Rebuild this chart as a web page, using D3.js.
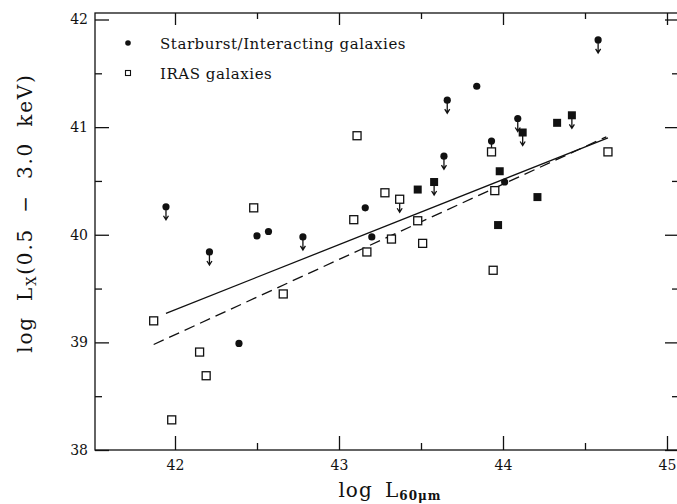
<!DOCTYPE html>
<html>
<head>
<meta charset="utf-8">
<script src="https://cdnjs.cloudflare.com/ajax/libs/d3/7.8.5/d3.min.js"></script>
<style>
  body { margin: 0; background: #fff; }
  text { font-family: "DejaVu Serif", serif; fill: #111; }
  .okvir-linija { stroke: #111; stroke-width: 1.3; fill: none; }
  .tick line { stroke: #111; stroke-width: 1.3; }
  .domain { display: none; }
</style>
</head>
<body>
<div id="wrapper"></div>
<script>
// starburst / interacting galaxies (filled circles)
const starburstX = [42.50, 42.57, 43.84, 43.16, 43.20, 42.39, 44.01]
const starburstY = [39.99, 40.03, 41.38, 40.25, 39.98, 38.99, 40.49]
const starburstLimX = [41.945, 42.78, 44.58, 43.66, 44.09, 43.93, 43.64, 42.21]
const starburstLimY = [40.26, 39.98, 41.81, 41.25, 41.08, 40.87, 40.73, 39.84]

// filled squares
const filledSqX = [44.33, 43.98, 43.48, 44.21, 43.97]
const filledSqY = [41.04, 40.59, 40.42, 40.35, 40.09]
const filledSqLimX = [44.12, 44.42, 43.58]
const filledSqLimY = [40.95, 41.11, 40.49]

// IRAS galaxies (open squares)
const irasX = [42.48, 43.11, 43.93, 44.64, 43.28, 43.95, 43.09, 43.48, 43.32, 43.51, 43.17, 42.66, 41.87, 42.15, 42.19, 41.98, 43.94]
const irasY = [40.25, 40.92, 40.77, 40.77, 40.39, 40.41, 40.14, 40.13, 39.96, 39.92, 39.84, 39.45, 39.20, 38.91, 38.69, 38.28, 39.67]
const irasLimX = [43.37]
const irasLimY = [40.33]

// fit lines (end points)
const solidLineX = [41.945, 44.64]
const solidLineY = [39.27, 40.90]
const dashedLineX = [41.87, 44.63]
const dashedLineY = [38.98, 40.91]

const xMajorTicks = [42, 43, 44, 45]
const xMinorTicks = [42.5, 43.5, 44.5]
const yMajorTicks = [38, 39, 40, 41, 42]
const yMinorTicks = [38.5, 39.5, 40.5, 41.5]

const legendLabels = ["Starburst/Interacting galaxies", "IRAS galaxies"]

function drawChart() {
  const dim = {
    width: 677,
    height: 504,
    left: 95,
    right: 679,
    top: 13,
    bottom: 450,
  }

  const svg = d3.select("#wrapper")
    .append("svg")
    .attr("width", dim.width)
    .attr("height", dim.height)

  const xScale = d3.scaleLinear()
    .domain([42, 45])
    .range([175, 667])
  const yScale = d3.scaleLinear()
    .domain([38, 42])
    .range([450, 19.5])

  // frame
  svg.append("rect")
    .attr("class", "okvir-linija")
    .attr("x", dim.left)
    .attr("y", dim.top)
    .attr("width", dim.right - dim.left)
    .attr("height", dim.bottom - dim.top)

  // axes, ticks pointing inward
  const major = 14, minor = 7
  svg.append("g")
    .attr("transform", `translate(0,${dim.bottom})`)
    .call(d3.axisBottom(xScale).tickValues(xMajorTicks).tickSize(-major).tickPadding(10).tickFormat(d3.format("d")))
    .style("font-size", "14px")
  svg.append("g")
    .attr("transform", `translate(0,${dim.bottom})`)
    .call(d3.axisBottom(xScale).tickValues(xMinorTicks).tickSize(-minor).tickFormat(""))
  svg.append("g")
    .attr("transform", `translate(0,${dim.top})`)
    .call(d3.axisTop(xScale).tickValues(xMajorTicks).tickSize(-12).tickFormat(""))
  svg.append("g")
    .attr("transform", `translate(0,${dim.top})`)
    .call(d3.axisTop(xScale).tickValues(xMinorTicks).tickSize(-6).tickFormat(""))

  svg.append("g")
    .attr("transform", `translate(${dim.left},0)`)
    .call(d3.axisLeft(yScale).tickValues(yMajorTicks).tickSize(-major).tickPadding(7).tickFormat(d3.format("d")))
    .style("font-size", "14px")
  svg.append("g")
    .attr("transform", `translate(${dim.left},0)`)
    .call(d3.axisLeft(yScale).tickValues(yMinorTicks).tickSize(-minor).tickFormat(""))
  svg.append("g")
    .attr("transform", `translate(${dim.right},0)`)
    .call(d3.axisRight(yScale).tickValues(yMajorTicks).tickSize(-major).tickFormat(""))
  svg.append("g")
    .attr("transform", `translate(${dim.right},0)`)
    .call(d3.axisRight(yScale).tickValues(yMinorTicks).tickSize(-minor).tickFormat(""))

  // fit lines
  const lineGen = d3.line().x(d => xScale(d[0])).y(d => yScale(d[1]))
  svg.append("path")
    .attr("d", lineGen(d3.zip(solidLineX, solidLineY)))
    .attr("fill", "none").attr("stroke", "#111").attr("stroke-width", 1.3)
  svg.append("path")
    .attr("d", lineGen(d3.zip(dashedLineX, dashedLineY)))
    .attr("fill", "none").attr("stroke", "#111").attr("stroke-width", 1.3)
    .attr("stroke-dasharray", "11,6")

  // upper limit arrows
  const allLimits = d3.zip(
    starburstLimX.concat(filledSqLimX, irasLimX),
    starburstLimY.concat(filledSqLimY, irasLimY))
  svg.selectAll(".strelica")
    .data(allLimits)
    .enter().append("path")
      .attr("class", "strelica")
      .attr("fill", "none").attr("stroke", "#111").attr("stroke-width", 1.3)
      .attr("d", d => {
        const x = xScale(d[0]), y = yScale(d[1])
        return `M${x},${y}L${x},${y + 13}M${x - 2.5},${y + 9}L${x},${y + 13}L${x + 2.5},${y + 9}`
      })

  // markers
  const sq = 8
  svg.selectAll(".iras")
    .data(d3.zip(irasX.concat(irasLimX), irasY.concat(irasLimY)))
    .enter().append("rect")
      .attr("class", "iras")
      .attr("x", d => xScale(d[0]) - sq / 2)
      .attr("y", d => yScale(d[1]) - sq / 2)
      .attr("width", sq).attr("height", sq)
      .attr("fill", "#fff").attr("stroke", "#111").attr("stroke-width", 1.3)

  svg.selectAll(".puniKvadrat")
    .data(d3.zip(filledSqX.concat(filledSqLimX), filledSqY.concat(filledSqLimY)))
    .enter().append("rect")
      .attr("class", "puniKvadrat")
      .attr("x", d => xScale(d[0]) - sq / 2)
      .attr("y", d => yScale(d[1]) - sq / 2)
      .attr("width", sq).attr("height", sq)
      .attr("fill", "#111")

  svg.selectAll(".starburst")
    .data(d3.zip(starburstX.concat(starburstLimX), starburstY.concat(starburstLimY)))
    .enter().append("circle")
      .attr("class", "starburst")
      .attr("cx", d => xScale(d[0]))
      .attr("cy", d => yScale(d[1]))
      .attr("r", 3.6)
      .attr("fill", "#111")

  // legend
  const legenda = svg.append("g").attr("transform", "translate(128,43)")
  legenda.append("circle").attr("r", 2.8).attr("fill", "#111")
  legenda.append("rect").attr("x", -2.5).attr("y", 27.5).attr("width", 5).attr("height", 5)
    .attr("fill", "#fff").attr("stroke", "#111").attr("stroke-width", 1.1)
  legenda.selectAll(".legenda-tekst")
    .data(legendLabels)
    .enter().append("text")
      .attr("class", "legenda-tekst")
      .attr("x", 32)
      .attr("y", (d, i) => 6 + i * 30)
      .style("font-size", "15px")
      .style("letter-spacing", "0.55px")
      .text(d => d)

  // axis labels
  const xLab = svg.append("text")
    .attr("x", 390).attr("y", 497)
    .attr("text-anchor", "middle")
    .style("font-size", "20px")
    .style("letter-spacing", "1px")
    .style("word-spacing", "5px")
  xLab.append("tspan").text("log L")
  xLab.append("tspan").attr("dy", 3).style("font-size", "12px").style("font-weight", "bold").text("60μm")

  const yLab = svg.append("text")
    .attr("transform", "translate(32,213) rotate(-90)")
    .attr("text-anchor", "middle")
    .style("font-size", "20px")
    .style("letter-spacing", "1.8px")
    .style("word-spacing", "7px")
  yLab.append("tspan").text("log L")
  yLab.append("tspan").attr("dy", 4).style("font-size", "13px").text("X")
  yLab.append("tspan").attr("dy", -4).text("(0.5 − 3.0 keV)")
}
drawChart()
</script>
</body>
</html>
